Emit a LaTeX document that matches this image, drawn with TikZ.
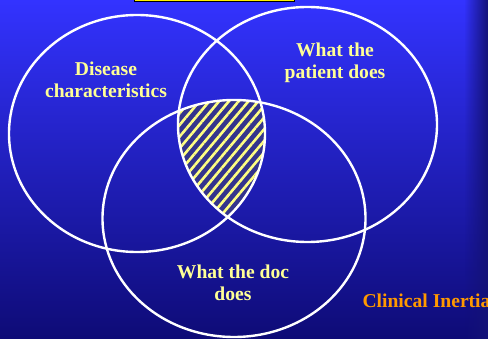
\documentclass[tikz,border=0pt]{standalone}
\usepackage{fontspec}
\setmainfont{Liberation Serif}
\usetikzlibrary{patterns.meta, fadings}

\definecolor{bgtop}{RGB}{51,51,255}
\definecolor{bgbottom}{RGB}{14,11,118}
\definecolor{edgedark}{RGB}{20,18,120}
\definecolor{hatchbg}{RGB}{52,52,140}
\definecolor{hatchline}{RGB}{255,255,130}
\definecolor{labelyellow}{RGB}{255,255,150}
\definecolor{inertiaorange}{RGB}{255,153,0}

\tikzfading[name=edgefade, left color=transparent!100, right color=transparent!0]

\tikzset{
  setring/.style={draw=white, line width=2.4pt},
  setlabel/.style={align=center, text=labelyellow,
    font=\bfseries\fontsize{19.6}{22.5}\selectfont}
}

\begin{document}
\begin{tikzpicture}[x=1pt, y=-1pt]
            \useasboundingbox (0,0) rectangle (488,339);
            \shade[top color=bgtop, bottom color=bgbottom] (0,0) rectangle (488,339);
            \fill[edgedark, path fading=edgefade] (464,0) rectangle (488,339);
            
            % title bar, cut at the top edge
            \draw[black, line width=1pt, fill=yellow] (134,-5) rectangle (294,1.5);
            
            \coordinate (L) at (137,133.5);
            \coordinate (R) at (307.5,124.5);
            \coordinate (D) at (234,218.5);
            
            % common part of the three sets
            \begin{scope}
              \clip (L) ellipse [x radius=128pt, y radius=118.5pt];
              \clip (R) ellipse [x radius=129.5pt, y radius=117.5pt];
              \fill[hatchbg] (D) ellipse [x radius=131.5pt, y radius=118.5pt];
              \fill[pattern={Lines[angle=50, distance=7.5pt, line width=2.6pt]}, pattern color=hatchline]
                (D) ellipse [x radius=131.5pt, y radius=118.5pt];
            \end{scope}
            
            \draw[setring] (L) ellipse [x radius=128pt, y radius=118.5pt];
            \draw[setring] (R) ellipse [x radius=129.5pt, y radius=117.5pt];
            \draw[setring] (D) ellipse [x radius=131.5pt, y radius=118.5pt];
            
            \node[setlabel] (disease) at (106,80) {Disease\\characteristics};
            \node[setlabel] (patient) at (335,63) {What the\\patient does};
            \node[setlabel] (doc) at (233,283) {What the doc\\does};
            \node[text=inertiaorange, font=\bfseries\fontsize{19.6}{22.5}\selectfont, anchor=base west]
              (inertia) at (359,308) {Clinical Inertia};
        \end{tikzpicture}
\end{document}
